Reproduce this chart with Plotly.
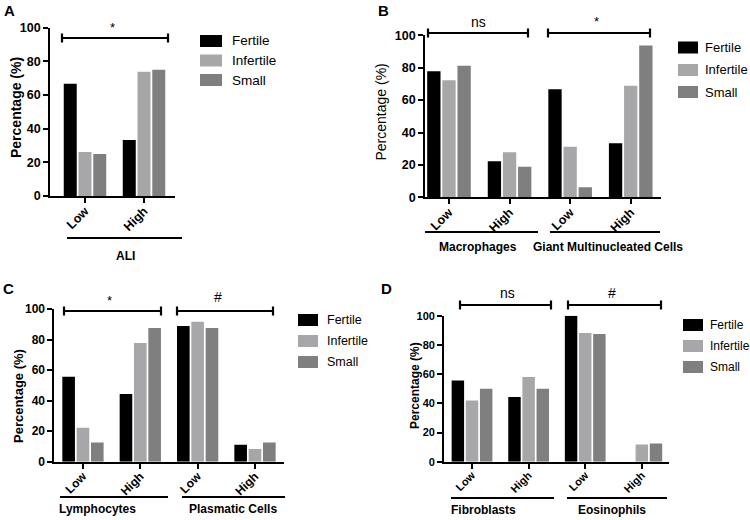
import plotly.graph_objects as go

# ---------------- data ----------------
series_names = ["Fertile", "Infertile", "Small"]
series_colors = ["#000000", "#a7a7aa", "#7f7f80"]
levels = ["Low", "High"]
y_title = "Percentage (%)"

# Panel A
a_groups = ["ALI"]
a_fertile = [66.7, 33.3]
a_infertile = [26.1, 73.9]
a_small = [25.0, 75.0]

# Panel B
b_groups = ["Macrophages", "Giant Multinucleated Cells"]
b_fertile = [77.8, 22.2, 66.7, 33.3]
b_infertile = [72.2, 27.8, 31.2, 68.8]
b_small = [81.2, 18.8, 6.25, 93.75]

# Panel C
c_groups = ["Lymphocytes", "Plasmatic Cells"]
c_fertile = [55.6, 44.4, 88.9, 11.1]
c_infertile = [22.2, 77.8, 91.7, 8.3]
c_small = [12.5, 87.5, 87.5, 12.5]

# Panel D
d_groups = ["Fibroblasts", "Eosinophils"]
d_fertile = [55.6, 44.4, 100.0, 0.0]
d_infertile = [42.0, 58.0, 88.2, 11.8]
d_small = [50.0, 50.0, 87.5, 12.5]

# significance marks per group
a_sig = ["*"]
b_sig = ["ns", "*"]
c_sig = ["*", "#"]
d_sig = ["ns", "#"]

y_ticks = [0, 20, 40, 60, 80, 100]

# ---------------- layout helpers ----------------
W, H = 750, 520
FONT = "Liberation Sans, Arial, sans-serif"


def px(x):
    return x / W


def py(y):
    return 1 - y / H


fig = go.Figure()

panels = [
    dict(ax="", groups=a_groups, vals=[a_fertile, a_infertile, a_small], sig=a_sig,
         xd=(50, 175), yd=(27.7, 196), xr=(-0.593, 1.525),
         leg=dict(x0=200, x1=222, tx=230, rows=[41, 60.5, 80], size=13.5),
         tick=12.5, title=dict(x=16, y=108, size=14, bold=True)),
    dict(ax="2", groups=b_groups, vals=[b_fertile, b_infertile, b_small], sig=b_sig,
         xd=(425, 661), yd=(35.3, 197.3), xr=(-0.396, 3.5),
         leg=dict(x0=678, x1=698, tx=703, rows=[47.5, 70, 92], size=13),
         tick=12.5, title=dict(x=380, y=112.5, size=14, bold=False)),
    dict(ax="3", groups=c_groups, vals=[c_fertile, c_infertile, c_small], sig=c_sig,
         xd=(54.3, 284), yd=(309, 461.7), xr=(-0.5, 3.506),
         leg=dict(x0=298, x1=318, tx=325, rows=[320, 341, 362], size=12.5),
         tick=12, title=dict(x=18, y=396, size=13, bold=True)),
    dict(ax="4", groups=d_groups, vals=[d_fertile, d_infertile, d_small], sig=d_sig,
         xd=(444, 669), yd=(315.7, 461.7), xr=(-0.495, 3.48),
         leg=dict(x0=683, x1=703, tx=708, rows=[325, 346, 367], size=12),
         tick=11, title=dict(x=415, y=386, size=12, bold=True)),
]

layout = dict(
    width=W, height=H,
    margin=dict(l=0, r=0, t=0, b=0),
    paper_bgcolor="white", plot_bgcolor="white",
    barmode="group", bargap=0.25, bargroupgap=0.12,
    font=dict(family=FONT, color="black"),
    showlegend=False,
)

shapes = []
annotations = []


def text(x, y, s, size=12, bold=True, xanchor="center", angle=0):
    annotations.append(dict(xref="paper", yref="paper", x=px(x), y=py(y), text=s,
                            showarrow=False, xanchor=xanchor, yanchor="middle",
                            textangle=angle,
                            font=dict(family=FONT, size=size, color="black",
                                      weight="bold" if bold else "normal")))


for p in panels:
    keys = [f"{g}|{l}" for g in p["groups"] for l in levels]
    ticktext = [l for g in p["groups"] for l in levels]
    for name, color, vals in zip(series_names, series_colors, p["vals"]):
        fig.add_trace(go.Bar(
            x=keys, y=vals, name=name, marker=dict(color=color, line=dict(width=0)),
            xaxis="x" + p["ax"], yaxis="y" + p["ax"],
        ))
    layout["xaxis" + p["ax"]] = dict(
        domain=[px(p["xd"][0]), px(p["xd"][1])], anchor="y" + p["ax"],
        type="category", range=list(p["xr"]),
        tickmode="array", tickvals=keys, ticktext=ticktext, tickangle=-45,
        ticks="outside", ticklen=5, tickwidth=1.8, tickcolor="black",
        ticklabelstandoff=-4,
        showline=True, linewidth=1.8, linecolor="black", showgrid=False, zeroline=False,
        tickfont=dict(family=FONT, size=p["tick"], weight="bold", color="black"),
        automargin=False, fixedrange=True,
    )
    layout["yaxis" + p["ax"]] = dict(
        domain=[py(p["yd"][1]), py(p["yd"][0])], anchor="x" + p["ax"],
        range=[0, 100], tickvals=y_ticks,
        ticks="outside", ticklen=5, tickwidth=1.8, tickcolor="black",
        showline=True, linewidth=1.8, linecolor="black", showgrid=False, zeroline=False,
        tickfont=dict(family=FONT, size=p["tick"], weight="bold", color="black"),
        automargin=False, fixedrange=True,
    )
    t = p["title"]
    text(t["x"], t["y"], y_title, t["size"], bold=t["bold"], angle=-90)
    # legend drawn as swatches + labels
    lg = p["leg"]
    for name, color, yy in zip(series_names, series_colors, lg["rows"]):
        shapes.append(dict(type="rect", xref="paper", yref="paper",
                           x0=px(lg["x0"]), x1=px(lg["x1"]), y0=py(yy - 6), y1=py(yy + 6),
                           fillcolor=color, line=dict(width=0)))
        text(lg["tx"], yy, name, lg["size"], bold=False, xanchor="left")

fig.update_layout(**layout)


def hline(x0, x1, y, w=2.2):
    shapes.append(dict(type="line", xref="paper", yref="paper",
                       x0=px(x0), x1=px(x1), y0=py(y), y1=py(y),
                       line=dict(color="black", width=w)))


def bracket(x0, x1, y, cap=4.5):
    hline(x0, x1, y)
    for xx in (x0, x1):
        shapes.append(dict(type="line", xref="paper", yref="paper",
                           x0=px(xx), x1=px(xx), y0=py(y - cap), y1=py(y + cap),
                           line=dict(color="black", width=2.2)))


# panel letters
text(9, 10.5, "A", 15)
text(383, 10, "B", 15)
text(8.5, 288, "C", 15)
text(386.5, 288, "D", 15)

# brackets + significance
sig_layout = [
    (62, 168, 38, 112, 27, a_sig[0]),
    (428, 528, 33, 478, 22, b_sig[0]),
    (548, 650, 33, 596, 22, b_sig[1]),
    (64, 161, 311, 109, 300, c_sig[0]),
    (177, 273, 311, 218, 297, c_sig[1]),
    (460, 551, 305, 507, 293, d_sig[0]),
    (568, 661, 305, 612, 293, d_sig[1]),
]
for x0, x1, yb, tx, ty, s in sig_layout:
    bracket(x0, x1, yb)
    text(tx, ty, s, 14 if s != "*" else 13, bold=False)

# group underlines + labels
group_layout = [
    (67, 182, 238, 125, 256, a_groups[0]),
    (425, 538, 232, 478, 247, b_groups[0]),
    (550, 660, 232, 608, 247, b_groups[1]),
    (60, 168, 497, 98, 509, c_groups[0]),
    (182, 285, 497, 233, 509, c_groups[1]),
    (451, 554, 498, 483, 510, d_groups[0]),
    (567, 667, 498, 612, 510, d_groups[1]),
]
for x0, x1, yl, tx, ty, s in group_layout:
    hline(x0, x1, yl)
    text(tx, ty, s, 12)

fig.update_layout(shapes=shapes, annotations=annotations)

fig.write_html(
    "out.html",
    config={"displayModeBar": False},
    post_script="document.body.style.margin='0';document.body.style.overflow='hidden';",
)
